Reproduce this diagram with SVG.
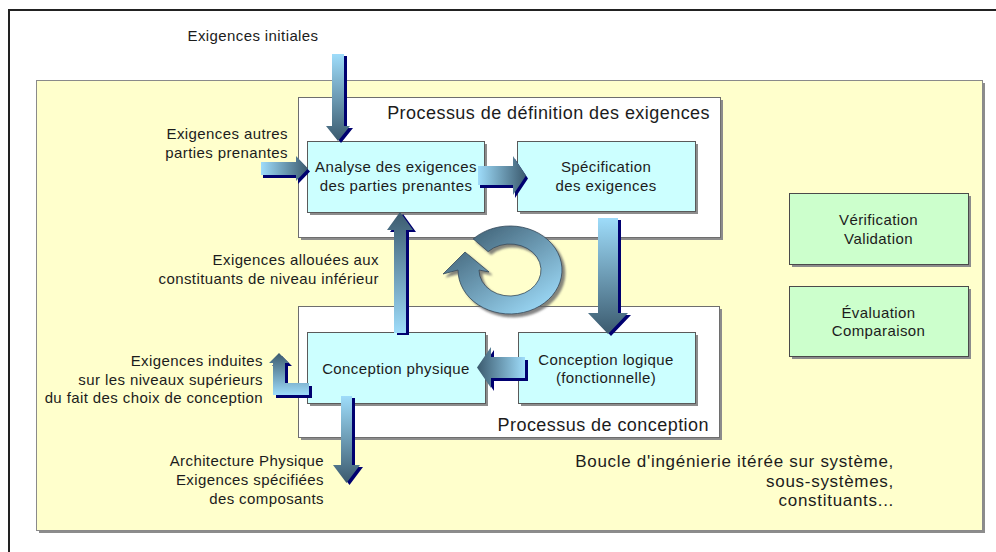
<svg xmlns="http://www.w3.org/2000/svg" width="996" height="552" viewBox="0 0 996 552">
<style>
text{font-family:"Liberation Sans",Arial,sans-serif;fill:#1c1c1c}
.t{font-size:15px;letter-spacing:0.4px}
.b{font-size:18px;letter-spacing:0.45px}
.c{font-size:17px;letter-spacing:0.7px}
.m{text-anchor:middle}
.e{text-anchor:end}
.sh{fill:#8c8c8c}
.proc{fill:#ffffff;stroke:#6e6e6e;stroke-width:1}
.cy{fill:#ccffff;stroke:#5a5a5a;stroke-width:1}
.gr{fill:#ccffcc;stroke:#4a4a4a;stroke-width:1}
.nv{fill:#000070}
</style>
<defs>
<linearGradient id="gd" x1="0" y1="0" x2="0" y2="1"><stop offset="0" stop-color="#9edcfa"/><stop offset="1" stop-color="#3b5a6e"/></linearGradient>
<linearGradient id="gu" x1="0" y1="1" x2="0" y2="0"><stop offset="0" stop-color="#9edcfa"/><stop offset="1" stop-color="#3b5a6e"/></linearGradient>
<linearGradient id="gr" x1="0" y1="0" x2="1" y2="0"><stop offset="0" stop-color="#9edcfa"/><stop offset="1" stop-color="#3b5a6e"/></linearGradient>
<linearGradient id="gl" x1="1" y1="0" x2="0" y2="0"><stop offset="0" stop-color="#9edcfa"/><stop offset="1" stop-color="#3b5a6e"/></linearGradient>
<linearGradient id="gring" x1="0.1" y1="0.05" x2="0.9" y2="0.95"><stop offset="0" stop-color="#3b5a6e"/><stop offset="1" stop-color="#9edcfa"/></linearGradient>
<filter id="rsh" x="-20%" y="-20%" width="140%" height="140%"><feDropShadow dx="3" dy="3" stdDeviation="1.2" flood-color="#666" flood-opacity="0.8"/></filter>
</defs>

<rect x="9" y="10" width="1000" height="560" fill="#ffffff" stroke="#222" stroke-width="2"/>

<g id="boucle">
<rect x="39" y="83" width="946" height="450" class="sh"/>
<rect x="36.5" y="80.5" width="946" height="450" fill="#ffffcc" stroke="#8a8a8a"/>
<text class="c e" x="894" y="467">Boucle d'ingénierie itérée sur système,</text>
<text class="c e" x="894" y="486.5">sous-systèmes,</text>
<text class="c e" x="894" y="506">constituants...</text>
</g>

<g id="processus-definition">
<rect x="301" y="100" width="422" height="140" class="sh"/>
<rect x="298.5" y="97.5" width="422" height="140" class="proc"/>
<text class="b e" x="710" y="119">Processus de définition des exigences</text>
</g>

<g id="processus-conception">
<rect x="301" y="309" width="421" height="131" class="sh"/>
<rect x="298.5" y="306.5" width="421" height="131" class="proc"/>
<text class="b e" x="709" y="431">Processus de conception</text>
</g>

<g id="analyse">
<rect x="310" y="144" width="177" height="71" class="sh"/>
<rect x="307.5" y="141.5" width="177" height="71" class="cy"/>
<text class="t m" x="396" y="172">Analyse des exigences</text>
<text class="t m" x="396" y="190.5">des parties prenantes</text>
</g>

<g id="specification">
<rect x="520" y="144" width="178" height="70" class="sh"/>
<rect x="517.5" y="141.5" width="178" height="70" class="cy"/>
<text class="t m" x="606" y="172">Spécification</text>
<text class="t m" x="606" y="190.5">des exigences</text>
</g>

<g id="conception-logique">
<rect x="521" y="335" width="177" height="71" class="sh"/>
<rect x="518.5" y="332.5" width="177" height="71" class="cy"/>
<text class="t m" x="606" y="364.5">Conception logique</text>
<text class="t m" x="606" y="383">(fonctionnelle)</text>
</g>

<g id="conception-physique">
<rect x="310" y="335" width="178" height="71" class="sh"/>
<rect x="307.5" y="332.5" width="178" height="71" class="cy"/>
<text class="t m" x="396" y="373.5">Conception physique</text>
</g>

<g id="verification">
<rect x="792" y="196" width="179" height="71" class="sh"/>
<rect x="789.5" y="193.5" width="179" height="71" class="gr"/>
<text class="t m" x="878.5" y="225">Vérification</text>
<text class="t m" x="878.5" y="243.5">Validation</text>
</g>

<g id="evaluation">
<rect x="792" y="289" width="179" height="70" class="sh"/>
<rect x="789.5" y="286.5" width="179" height="70" class="gr"/>
<text class="t m" x="878.5" y="318">Évaluation</text>
<text class="t m" x="878.5" y="336">Comparaison</text>
</g>

<g id="connectors">
<!-- Exigences initiales: down -->
<path class="nv" transform="translate(3,2)" d="M332,54 H344 V126 H350 L338,141 L326,126 H332 Z"/>
<path fill="url(#gd)" d="M332,54 H344 V126 H350 L338,141 L326,126 H332 Z"/>
<!-- autres parties prenantes: right -->
<path class="nv" transform="translate(2,3)" d="M261,162 H296 V156 L308,168.5 L296,181 V175 H261 Z"/>
<path fill="url(#gr)" d="M261,162 H296 V156 L308,168.5 L296,181 V175 H261 Z"/>
<!-- Analyse -> Specification -->
<path class="nv" transform="translate(2,3)" d="M478,166 H513 V156 L526,175.5 L513,195 V185 H478 Z"/>
<path fill="url(#gr)" d="M478,166 H513 V156 L526,175.5 L513,195 V185 H478 Z"/>
<!-- Specification -> Conception logique -->
<path class="nv" transform="translate(3,2)" d="M598,218 H618 V313 H628 L608,334 L588,313 H598 Z"/>
<path fill="url(#gd)" d="M598,218 H618 V313 H628 L608,334 L588,313 H598 Z"/>
<!-- Conception logique -> Conception physique -->
<path class="nv" transform="translate(3,3)" d="M525,357 H491 V347 L477,367.5 L491,388 V378 H525 Z"/>
<path fill="url(#gl)" d="M525,357 H491 V347 L477,367.5 L491,388 V378 H525 Z"/>
<!-- Conception physique -> Analyse: up -->
<path class="nv" transform="translate(3,2)" d="M394,333 V230 H387 L400,212 L413,230 H406 V333 Z"/>
<path fill="url(#gu)" d="M394,333 V230 H387 L400,212 L413,230 H406 V333 Z"/>
<!-- Exigences induites: elbow -->
<path class="nv" transform="translate(3,3)" d="M309,383 V395 H273 V363 H269 L279,353 L289,363 H285 V383 Z"/>
<path fill="url(#gu)" d="M309,383 V395 H273 V363 H269 L279,353 L289,363 H285 V383 Z"/>
<!-- Architecture physique: down -->
<path class="nv" transform="translate(3,2)" d="M341,396 H352 V465 H360 L346.5,483 L333,465 H341 Z"/>
<path fill="url(#gd)" d="M341,396 H352 V465 H360 L346.5,483 L333,465 H341 Z"/>
<!-- iteration loop -->
<path fill="url(#gring)" stroke="#34495a" stroke-width="0.8" filter="url(#rsh)" d="M473.2,238.9 A52,44 0 1 1 458,270 L443,274 L465,252 L489,272 L479,270 A31,26 0 1 0 488.1,251.6 Z"/>
</g>

<g id="labels">
<text class="t m" x="253" y="41">Exigences initiales</text>
<text class="t e" x="288" y="139">Exigences autres</text>
<text class="t e" x="288" y="157.5">parties prenantes</text>
<text class="t e" x="379" y="265">Exigences allouées aux</text>
<text class="t e" x="379" y="284">constituants de niveau inférieur</text>
<text class="t e" x="263" y="365.5">Exigences induites</text>
<text class="t e" x="263" y="384.5">sur les niveaux supérieurs</text>
<text class="t e" x="263" y="403">du fait des choix de conception</text>
<text class="t e" x="324" y="466">Architecture Physique</text>
<text class="t e" x="324" y="485">Exigences spécifiées</text>
<text class="t e" x="324" y="503.5">des composants</text>
</g>
</svg>
